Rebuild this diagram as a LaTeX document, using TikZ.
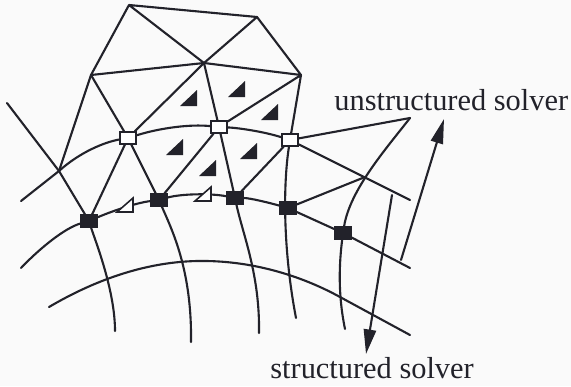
\documentclass[tikz,border=0pt]{standalone}
\usepackage{fontspec}
\setmainfont{Liberation Serif}
\usetikzlibrary{arrows.meta, backgrounds}
\definecolor{paper}{HTML}{FAFAFA}
\definecolor{ink}{HTML}{22222A}
\tikzset{
  meshline/.style={draw=ink, line width=1.2pt, line cap=round, line join=round},
  bluntarrow/.style={meshline, -{Triangle[length=14pt,width=7pt]}},
  opensq/.style={draw=ink, fill=white, line width=1.1pt, inner sep=0pt, minimum width=9pt, minimum height=6.6pt},
  solidsq/.style={draw=ink, fill=ink, line width=0.6pt, inner sep=0pt, minimum width=9.4pt, minimum height=7pt},
  label/.style={text=ink, font=\fontsize{17.3pt}{20pt}\selectfont, inner sep=0pt, anchor=base west}
}
\begin{document}
\begin{tikzpicture}[x=0.02cm, y=-0.02cm]
        \useasboundingbox (0,0) rectangle (571,386);
        % Unstructured vertices
        \coordinate (top) at (129,5);
        \coordinate (topr) at (257,17);
        \coordinate (hub) at (204,63);
        \coordinate (left) at (91,75);
        \coordinate (right) at (301,75);
        \coordinate (cross) at (59,171);
        \coordinate (fan) at (410,118);
        \coordinate (knee) at (365,177);
        % Interface squares
        \node[opensq] (p1) at (128,138) {};
        \node[opensq] (p2) at (219,127) {};
        \node[opensq] (p3) at (290,140) {};
        \node[solidsq] (s1) at (89,221) {};
        \node[solidsq] (s2) at (159,200) {};
        \node[solidsq] (s3) at (235,198) {};
        \node[solidsq] (s4) at (288,208) {};
        \node[solidsq] (s5) at (343,233) {};
        % Labels
        \node[label] (unstr) at (334,110) {unstructured solver};
        \node[label] (str) at (270,378) {structured solver};
        % Arrow ends
        \coordinate (upfoot) at (401,260);
        \coordinate (uptip) at (444,119);
        \coordinate (downfoot) at (392,195);
        \coordinate (downtip) at (366,354);
        \begin{scope}[on background layer]
        \fill[paper] (0,0) rectangle (571,386);
        % Triangles on top
        \draw[meshline] (left) -- (top) -- (topr) -- (right) -- (hub) -- (top);
        \draw[meshline] (left) -- (hub) -- (topr);
        \draw[meshline] (left) -- (p1) -- (hub) -- (p2) -- (right) -- (p3);
        \draw[meshline] (left) -- (cross);
        \draw[meshline] (p1) -- (s1);
        \draw[meshline] (p1) -- (s2) -- (p2) -- (s3) -- (p3);
        \draw[meshline] (s4) -- (knee);
        \draw[meshline] (p3) -- (fan);
        \draw[meshline] (p3) -- (410,200);
        \draw[meshline] (cross) -- (21,201);
        % Curved grid lines
        \draw[meshline] (cross) .. controls (80,152) and (105,142) .. (p1)
            .. controls (160,128) and (190,124) .. (p2)
            .. controls (240,128) and (265,132) .. (p3);
        \draw[meshline] (21,268) .. controls (40,248) and (65,228) .. (s1)
            .. controls (110,212) and (135,203) .. (s2)
            .. controls (180,194) and (210,193) .. (s3)
            .. controls (250,198) and (270,203) .. (s4) -- (s5) -- (410,268);
        \draw[meshline] (49,307) .. controls (100,277) and (150,262) .. (197,261)
            .. controls (250,260) and (300,275) .. (340,297) -- (410,335);
        \draw[meshline] (7,103) -- (cross) -- (s1);
        \draw[meshline] (s1) .. controls (95,240) and (115,290) .. (115,331);
        \draw[meshline] (s2) .. controls (172,230) and (192,270) .. (191,342);
        \draw[meshline] (s3) .. controls (243,235) and (260,275) .. (259,333);
        \draw[meshline] (p3) .. controls (283,185) and (283,250) .. (296,318);
        \draw[meshline] (fan) .. controls (385,150) and (350,190) .. (s5)
            .. controls (339,265) and (338,295) .. (345,329);
        % Solver arrows
        \draw[bluntarrow] (upfoot) -- (uptip);
        \draw[bluntarrow] (downfoot) -- (downtip);
        \end{scope}
        % Filled markers
        \foreach \x/\y in {197/106, 245/97, 278/120, 183/155, 257/159, 216/176}
            \fill[ink] (\x,\y) -- ++(-17,0) -- ++(17,-16) -- cycle;
        % Open markers
        \foreach \x/\y in {133/212, 211/201}
            \draw[ink, line width=0.9pt, fill=white] (\x,\y) -- ++(-16,0) -- ++(16,-14) -- cycle;
    \end{tikzpicture}
\end{document}
